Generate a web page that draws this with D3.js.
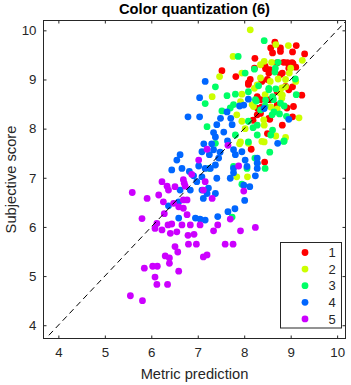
<!DOCTYPE html>
<html>
<head>
<meta charset="utf-8">
<script src="https://cdn.jsdelivr.net/npm/d3@7"></script>
<style>
  body { margin: 0; background: #fff; }
  svg text { font-family: "Liberation Sans", Arial, Helvetica, sans-serif; fill: #262626; }
</style>
</head>
<body>
<div id="chart"></div>
<script>
// Series: [metric prediction, subjective score] for each quality class
const groupNames = ["1", "2", "3", "4", "5"];
const groupColors = ["#ff0000", "#ccff00", "#00ff66", "#0066ff", "#cc00ff"];

const group1 = [
  [8.23,9.43],[7.52,9.18],[7.82,9.06],[8.22,9.23],[8.13,9.0],[8.38,8.96],[8.09,8.93],
  [8.66,9.76],[9.12,9.69],[8.57,9.64],[8.78,9.64],[8.61,9.54],[8.78,9.57],[9.04,9.56],[9.30,9.52],
  [8.93,9.34],[9.05,9.32],[9.11,9.25],[8.46,9.22],[8.53,9.13],[8.82,9.13],[8.5,9.0],
  [9.06,8.45],[8.92,8.42],[9.04,8.85],[9.24,8.68],[8.71,8.75],[8.71,8.48],[9.04,8.24],[8.55,8.19],
  [8.82,8.07],[8.5,7.90],[8.09,8.90],[8.29,8.41],[8.35,8.31],[8.19,8.17],[8.44,7.32],[8.15,7.58],
  [8.45,9.27],[8.55,9.20],[8.78,9.10],[8.71,9.34],[8.85,9.35],[9.03,9.34],[8.96,9.23],[8.89,8.86],
  [8.96,8.79],[8.53,8.21],[8.28,8.28],[8.35,8.59],[8.55,8.59],[8.28,8.65],[8.38,8.44]
];
const group2 = [
  [8.13,10.01],[7.76,9.47],[7.47,9.06],[7.95,9.13],[8.35,9.30],[8.35,9.03],
  [8.68,9.71],[8.95,9.69],[8.43,9.37],[8.59,9.35],[9.25,9.39],[9.0,9.23],[8.97,9.13],[8.89,9.0],
  [8.73,9.01],[9.11,8.96],[9.18,8.22],[8.89,8.85],[8.82,8.68],[8.57,8.44],[8.71,8.40],[8.43,8.07],
  [8.68,7.85],[8.89,7.82],[8.43,7.73],[7.31,8.65],[7.95,8.70],[8.22,8.82],[7.92,8.55],[8.17,8.49],
  [7.84,8.28],[7.95,8.15],[8.02,8.0],[7.92,7.73],[7.84,7.02],[8.07,7.02],[7.90,7.69],[8.09,7.70],
  [8.38,7.74],[8.28,8.89],[8.56,8.96],[8.81,8.83],[8.78,8.72],[8.45,8.69],[8.81,8.62],[8.20,8.45],
  [8.42,8.18]
];
const group3 = [
  [8.43,9.79],[7.87,9.47],[8.02,9.13],[8.22,9.21],[8.73,9.35],[8.66,9.15],
  [9.10,9.01],[9.12,8.69],[8.91,8.25],[8.53,8.82],[8.68,8.81],[8.61,8.65],[8.46,8.58],[8.86,8.46],
  [8.64,8.34],[8.76,8.30],[8.61,7.97],[8.57,7.87],[8.86,7.75],[7.38,8.85],[7.16,8.51],[7.63,8.67],
  [7.81,8.70],[8.09,8.75],[8.31,8.87],[7.77,8.49],[8.26,8.56],[7.52,8.36],[7.70,8.42],[7.20,8.04],
  [8.09,8.15],[8.28,8.07],[8.19,8.02],[7.81,7.87],[8.09,7.73],[8.28,7.87],[8.23,7.40],[8.28,7.30],
  [8.45,7.19],[7.77,7.23],[7.25,7.19],[7.38,7.70],[8.55,7.52],[8.85,7.74],[8.06,7.19],[7.95,6.87],
  [7.74,6.20],[8.67,9.23],[8.53,8.79],[8.63,8.59],[8.78,8.52],[8.60,8.28],[8.35,8.38],[8.24,8.59],
  [8.45,8.46]
];
const group4 = [
  [7.16,8.96],[8.96,8.19],[8.43,8.41],[8.72,7.70],
  [7.04,8.63],[8.09,8.60],[7.90,8.46],[7.99,8.48],[6.79,8.24],[7.04,8.24],[7.63,8.34],[7.49,8.21],
  [7.71,8.21],[7.41,8.08],[7.74,8.08],[7.56,7.93],[7.34,7.92],[7.38,7.83],[7.13,7.69],[7.30,7.69],
  [7.64,7.75],[6.55,7.36],[6.62,7.47],[6.44,7.16],[6.66,7.19],[7.25,7.47],[7.34,7.57],[7.48,7.52],
  [7.27,7.19],[7.38,7.26],[6.82,7.13],[6.91,7.04],[7.41,6.99],[6.98,6.92],[7.70,6.99],[7.77,7.19],
  [8.02,7.36],[8.06,7.23],[8.24,7.04],[7.99,6.85],[8.01,6.54],[7.12,6.58],[7.38,6.68],[6.62,6.75],
  [6.84,6.75],[6.37,6.43],[7.80,6.37],[7.02,7.24],[7.23,6.79],[6.59,6.51],[6.59,6.18],[6.95,6.18],
  [7.05,6.16],[7.16,6.14],[7.43,6.21],[7.65,6.31],[7.09,7.53],[7.77,7.57],[7.81,7.47],[7.95,7.53],
  [7.45,7.40],[8.28,7.19],[8.28,7.30],[8.28,7.40],[7.16,7.19],[7.77,7.10],[7.09,7.02],[8.12,6.82],
  [7.09,6.75],[7.20,6.68]
];
const group5 = [
  [7.65,7.66],[7.02,7.36],[7.20,7.58],[7.88,7.24],[7.99,6.73],[7.12,6.75],[7.31,6.58],[6.23,6.92],
  [6.34,6.83],[6.51,6.82],[6.69,6.96],[6.73,6.83],[5.59,6.70],[5.91,6.58],[6.16,6.65],[6.69,6.55],
  [6.48,6.48],[6.26,6.51],[6.87,7.07],[7.16,6.92],[6.37,6.75],[6.77,6.55],[6.59,6.41],[6.69,6.38],
  [6.77,6.25],[6.28,6.27],[5.80,6.17],[7.70,6.16],[7.43,6.04],[7.34,5.92],[7.92,5.92],[8.24,5.99],
  [7.59,5.65],[7.76,5.65],[7.05,6.04],[6.71,6.89],[6.12,6.07],[6.08,5.97],[6.23,5.94],[6.36,6.04],
  [6.44,6.06],[6.55,5.90],[6.41,5.87],[6.66,6.04],[6.84,6.04],[6.79,5.83],[6.92,5.85],[6.97,5.65],
  [6.80,5.65],[6.51,5.60],[6.57,5.49],[6.30,5.41],[6.39,5.37],[6.39,5.26],[7.12,5.39],[7.20,5.43],
  [6.59,5.10],[6.03,5.20],[6.13,5.20],[5.85,5.16],[6.08,4.98],[6.12,4.83],[6.35,4.83],[5.55,4.60],
  [5.81,4.50]
];
const seriesData = [group1, group2, group3, group4, group5];

const xTicks = [4, 5, 6, 7, 8, 9, 10];
const yTicks = [4, 5, 6, 7, 8, 9, 10];
const xDomain = [3.68, 10.18];
const yDomain = [3.73, 10.2];
const identityLine = [3.5, 10.5];

// Layout
const W = 351, H = 385;
const margin = { top: 20.5, right: 5.5, bottom: 46.5, left: 43.5 };
const width = W - margin.left - margin.right;
const height = H - margin.top - margin.bottom;

const svg = d3.select("#chart").append("svg")
    .attr("width", W)
    .attr("height", H);

const g = svg.append("g")
    .attr("transform", `translate(${margin.left},${margin.top})`);

const x = d3.scaleLinear().domain(xDomain).range([0, width]);
const y = d3.scaleLinear().domain(yDomain).range([height, 0]);

svg.append("defs").append("clipPath")
    .attr("id", "plot-clip")
    .append("rect")
    .attr("width", width)
    .attr("height", height);

// Scatter points, class 1 first so later classes sit on top
const dots = g.append("g").attr("clip-path", "url(#plot-clip)");
seriesData.forEach((pts, i) => {
    dots.selectAll(`.dot-${i}`)
        .data(pts)
        .enter()
        .append("circle")
        .attr("class", `dot-${i}`)
        .attr("cx", d => x(d[0]))
        .attr("cy", d => y(d[1]))
        .attr("r", 3.4)
        .attr("fill", groupColors[i]);
});

// y = x reference line
const line = d3.line().x(d => x(d)).y(d => y(d));
g.append("path")
    .attr("clip-path", "url(#plot-clip)")
    .attr("d", line(identityLine))
    .attr("fill", "none")
    .attr("stroke", "#000")
    .attr("stroke-width", 1)
    .attr("stroke-dasharray", "6,4");

// Axes (ticks inward on all four sides)
const styleAxis = sel => {
    sel.select(".domain").remove();
    sel.selectAll(".tick line").attr("stroke", "#262626");
    sel.selectAll(".tick text").style("font-size", "13.3px").attr("fill", "#262626");
};

g.append("g")
    .attr("transform", `translate(0,${height})`)
    .call(d3.axisBottom(x).tickValues(xTicks).tickSize(-3).tickPadding(9).tickFormat(d3.format("d")))
    .call(styleAxis);

g.append("g")
    .call(d3.axisTop(x).tickValues(xTicks).tickSize(-3).tickFormat(""))
    .call(styleAxis);

g.append("g")
    .call(d3.axisLeft(y).tickValues(yTicks).tickSize(-3).tickPadding(7).tickFormat(d3.format("d")))
    .call(styleAxis);

g.append("g")
    .attr("transform", `translate(${width},0)`)
    .call(d3.axisRight(y).tickValues(yTicks).tickSize(-3).tickFormat(""))
    .call(styleAxis);

g.append("rect")
    .attr("width", width)
    .attr("height", height)
    .attr("fill", "none")
    .attr("stroke", "#262626")
    .attr("stroke-width", 1);

// Title and axis labels
svg.append("text")
    .attr("x", margin.left + width / 2)
    .attr("y", 14)
    .attr("text-anchor", "middle")
    .style("font-size", "14.7px")
    .style("font-weight", "bold")
    .attr("fill", "#000")
    .style("fill", "#000")
    .text("Color quantization (6)");

svg.append("text")
    .attr("x", margin.left + width / 2)
    .attr("y", 379)
    .attr("text-anchor", "middle")
    .style("font-size", "14.7px")
    .text("Metric prediction");

svg.append("text")
    .attr("transform", `translate(16,${margin.top + height / 2}) rotate(-90)`)
    .attr("text-anchor", "middle")
    .style("font-size", "14.7px")
    .text("Subjective score");

// Legend
const legendX = 280.5, legendY = 242.5, legendW = 61, legendH = 85.5;
const legend = svg.append("g");
legend.append("rect")
    .attr("x", legendX)
    .attr("y", legendY)
    .attr("width", legendW)
    .attr("height", legendH)
    .attr("fill", "#fff")
    .attr("stroke", "#262626")
    .attr("stroke-width", 1);

const item = legend.selectAll(".legend-item")
    .data(groupNames)
    .enter()
    .append("g")
    .attr("class", "legend-item")
    .attr("transform", (d, i) => `translate(${legendX},${legendY + 10 + i * 16.6})`);

item.append("circle")
    .attr("cx", 24.5)
    .attr("cy", 0)
    .attr("r", 3.4)
    .attr("fill", (d, i) => groupColors[i]);

item.append("text")
    .attr("x", 48)
    .attr("y", 0)
    .attr("dy", "0.36em")
    .style("font-size", "13px")
    .text(d => d);
</script>
</body>
</html>
